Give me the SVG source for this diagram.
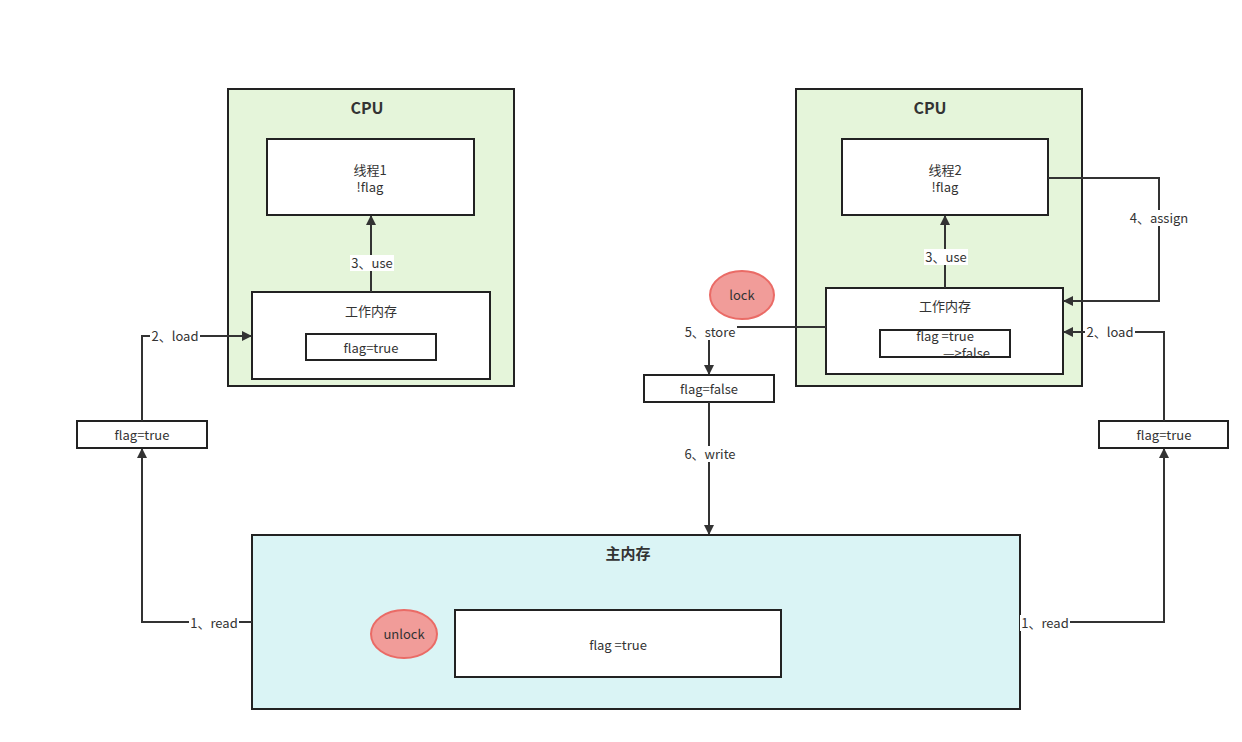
<svg xmlns="http://www.w3.org/2000/svg" width="1242" height="742" viewBox="0 0 1242 742">
<defs>
<style>
text{font-family:"Noto Sans CJK SC","Liberation Sans",sans-serif;font-size:13px;fill:#333;text-anchor:middle;dominant-baseline:central}
.t{font-weight:bold;font-size:16px}
.cpu{fill:#e5f5da;stroke:#222;stroke-width:2}
.box{fill:#fff;stroke:#222;stroke-width:2}
.mem{fill:#daf4f5;stroke:#222;stroke-width:2}
.oval{fill:#f19c99;stroke:#ea6b66;stroke-width:2}
.ln{fill:none;stroke:#333;stroke-width:2}
.lb{fill:#fff}
</style>
<marker id="a" viewBox="0 0 10 10" refX="9" refY="5" markerWidth="10" markerHeight="10" markerUnits="userSpaceOnUse" orient="auto"><path d="M0,0 L10,5 L0,10 z" fill="#333"/></marker>
</defs>
<rect width="1242" height="742" fill="#fff"/>
<g id="cpu1">
<rect class="cpu" x="228" y="89" width="286" height="297"/>
<text class="t" x="367" y="107">CPU</text>
</g>
<g id="thread1">
<rect class="box" x="267" y="139" width="207" height="76"/>
<text x="370" y="169">线程1</text>
<text x="370" y="186">!flag</text>
</g>
<g id="wm1">
<rect class="box" x="252" y="292" width="238" height="87"/>
<text x="371" y="310">工作内存</text>
</g>
<g id="wm1flag">
<rect class="box" x="306" y="334" width="130" height="26"/>
<text x="371" y="347">flag=true</text>
</g>
<g id="cpu2">
<rect class="cpu" x="796" y="89" width="286" height="297"/>
<text class="t" x="930" y="107">CPU</text>
</g>
<g id="thread2">
<rect class="box" x="842" y="139" width="206" height="76"/>
<text x="945" y="169">线程2</text>
<text x="945" y="186">!flag</text>
</g>
<g id="wm2">
<rect class="box" x="826" y="288" width="237" height="86"/>
<text x="945" y="305">工作内存</text>
</g>
<g id="wm2flag">
<rect class="box" x="880" y="330" width="130" height="27"/>
<text x="945" y="335">flag =true</text>
<text x="943" y="352" style="text-anchor:start">—&gt;false</text>
</g>
<g id="flagL">
<rect class="box" x="77" y="421" width="130" height="27"/>
<text x="142" y="434">flag=true</text>
</g>
<g id="flagR">
<rect class="box" x="1099" y="421" width="129" height="27"/>
<text x="1164" y="434">flag=true</text>
</g>
<g id="flagF">
<rect class="box" x="644" y="375" width="130" height="27"/>
<text x="709" y="388">flag=false</text>
</g>
<g id="lock">
<ellipse class="oval" cx="742" cy="295" rx="32" ry="24"/>
<text x="742" y="294">lock</text>
</g>
<g id="main">
<rect class="mem" x="252" y="535" width="768" height="174"/>
<text class="t" x="628" y="552" style="font-size:15px">主内存</text>
</g>
<g id="mainflag">
<rect class="box" x="455" y="610" width="326" height="67"/>
<text x="618" y="644">flag =true</text>
</g>
<g id="unlock">
<ellipse class="oval" cx="404" cy="634" rx="33" ry="24"/>
<text x="404" y="633">unlock</text>
</g>
<g id="connectors">
<path class="ln" d="M371,292 V216" marker-end="url(#a)"/>
<rect class="lb" x="350" y="255" width="44" height="16"/>
<text x="372" y="262">3、use</text>
<path class="ln" d="M945,288 V216" marker-end="url(#a)"/>
<rect class="lb" x="924" y="249" width="44" height="16"/>
<text x="946" y="256">3、use</text>
<path class="ln" d="M142,421 V336 H251" marker-end="url(#a)"/>
<rect class="lb" x="150" y="328" width="50" height="16"/>
<text x="175" y="335">2、load</text>
<path class="ln" d="M252,622 H142 V449" marker-end="url(#a)"/>
<rect class="lb" x="189" y="615" width="50" height="16"/>
<text x="214" y="622">1、read</text>
<path class="ln" d="M1048,178 H1159 V301 H1064" marker-end="url(#a)"/>
<rect class="lb" x="1129" y="210" width="61" height="16"/>
<text x="1159" y="217">4、assign</text>
<path class="ln" d="M1164,421 V332 H1064" marker-end="url(#a)"/>
<rect class="lb" x="1085" y="324" width="50" height="16"/>
<text x="1110" y="331">2、load</text>
<path class="ln" d="M1020,622 H1164 V449" marker-end="url(#a)"/>
<rect class="lb" x="1020" y="615" width="50" height="16"/>
<text x="1045" y="622">1、read</text>
<path class="ln" d="M826,327 H709 V374" marker-end="url(#a)"/>
<rect class="lb" x="683" y="324" width="54" height="16"/>
<text x="710" y="331">5、store</text>
<path class="ln" d="M709,402 V534" marker-end="url(#a)"/>
<rect class="lb" x="684" y="446" width="52" height="16"/>
<text x="710" y="453">6、write</text>
</g>
</svg>
